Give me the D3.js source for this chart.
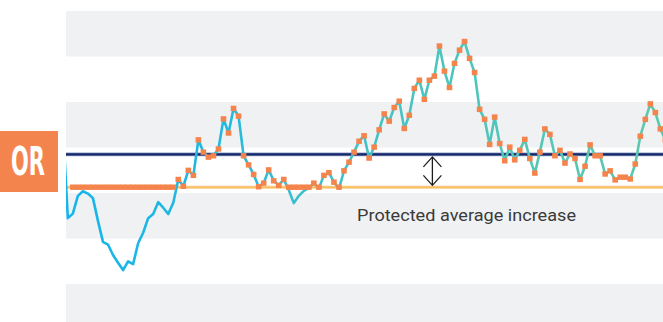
<!DOCTYPE html>
<html><head><meta charset="utf-8">
<script src="https://cdn.jsdelivr.net/npm/d3@7"></script>
<style>html,body{margin:0;padding:0;background:#fff;} svg{display:block}</style>
</head><body>
<svg id="c" width="663" height="322"></svg>
<script>
// ---- data ----
const values = [
  45.2, 24.5, 25.5, 29.4, 30.4, 29.9, 28.9, 23.9, 19.3, 18.7, 16.4, 14.7, 13.1, 15.0, 14.4, 19.0, 21.3, 24.5, 25.4, 28.0, 26.8, 25.4, 27.9,
  33.0, 31.5, 35.0, 33.9, 41.7, 39.0, 37.9, 38.2, 39.7, 46.3,
  43.2, 48.6, 46.9, 38.2, 36.2, 34.1, 31.4, 32.2, 35.1, 32.7,
  31.7, 33.0, 30.7, 27.8, 29.4, 30.5, 31.1, 32.2, 31.1, 33.9,
  34.5, 32.4, 31.0, 34.9, 36.8, 39.0, 41.4, 42.6, 37.7, 40.1,
  43.9, 47.4, 45.8, 48.8, 50.2, 44.2, 47.1, 53.0, 54.8, 50.6,
  54.8, 55.7, 62.3, 56.8, 53.2, 58.5, 61.4, 63.3, 59.6, 56.5,
  48.4, 46.2, 40.7, 46.7, 40.9, 37.1, 40.1, 37.3, 39.4, 41.8,
  37.6, 34.4, 39.0, 44.1, 42.9, 38.2, 39.4, 36.6, 38.6, 37.6,
  33.0, 35.9, 40.6, 38.2, 38.2, 34.2, 34.9, 32.9, 33.5, 33.5,
  33.1, 36.4, 42.5, 46.2, 49.6, 47.7, 44.1, 41.7
];
const floorLevel = 31.3;      // protected level (yellow line)
const averageLevel = 38.5;    // average level (navy line)
const bands = [[0, 10], [20, 30], [40, 50], [60, 70]];
const firstMarkerIndex = 2;
const arrowIndex = 73.6;
const badgeText = "OR";
const annotationText = "Protected average increase";

// ---- layout ----
const W = 663, H = 322;
const plotLeft = 66, plotRight = 663;
const svg = d3.select("#c");

const x = d3.scaleLinear().domain([0, values.length - 1]).range([62.8, 665.4]);
const y = d3.scaleLinear().domain([0, 70]).range([329.7, 11]);

const defs = svg.append("defs");
defs.append("clipPath").attr("id", "plotclip").append("rect")
  .attr("x", plotLeft).attr("y", 0).attr("width", plotRight - plotLeft).attr("height", H);
const grad = defs.append("linearGradient").attr("id", "lg")
  .attr("gradientUnits", "userSpaceOnUse")
  .attr("x1", plotLeft).attr("x2", plotRight).attr("y1", 0).attr("y2", 0);
[[0, "#15b5ea"], [0.25, "#22b8e0"], [0.4, "#3cbfcd"], [0.6, "#4cc4bf"], [1, "#5ec8ac"]]
  .forEach(([o, c]) => grad.append("stop").attr("offset", o).attr("stop-color", c));

// bands
svg.append("g").selectAll("rect").data(bands).join("rect")
  .attr("x", plotLeft).attr("width", plotRight - plotLeft)
  .attr("y", d => y(d[1])).attr("height", d => y(d[0]) - y(d[1]))
  .attr("fill", "#f0f1f3");

// reference lines
svg.append("line").attr("x1", plotLeft).attr("x2", plotRight)
  .attr("y1", y(floorLevel)).attr("y2", y(floorLevel))
  .attr("stroke", "#fde3b8").attr("stroke-width", 3.5);
svg.append("line").attr("x1", plotLeft).attr("x2", plotRight)
  .attr("y1", y(floorLevel)).attr("y2", y(floorLevel))
  .attr("stroke", "#f9bd62").attr("stroke-width", 2);
svg.append("line").attr("x1", plotLeft).attr("x2", plotRight)
  .attr("y1", y(averageLevel)).attr("y2", y(averageLevel))
  .attr("stroke", "#8a9cc4").attr("stroke-width", 3.6);
svg.append("line").attr("x1", plotLeft).attr("x2", plotRight)
  .attr("y1", y(averageLevel)).attr("y2", y(averageLevel))
  .attr("stroke", "#15296a").attr("stroke-width", 2.2);

// series line
const g = svg.append("g").attr("clip-path", "url(#plotclip)");
const line = d3.line().x((d, i) => x(i)).y(d => y(d));
g.append("path").datum(values).attr("d", line)
  .attr("fill", "none").attr("stroke", "url(#lg)")
  .attr("stroke-width", 2.6).attr("stroke-linejoin", "round").attr("stroke-linecap", "round");

// markers (clamped at the protected level)
const mw = 5.6, mh = 5.4;
g.selectAll("rect.m").data(values.map((v, i) => ({v, i})).filter(d => d.i >= firstMarkerIndex))
  .join("rect").attr("class", "m")
  .attr("x", d => x(d.i) - mw / 2).attr("y", d => y(Math.max(d.v, floorLevel)) - mh / 2)
  .attr("width", mw).attr("height", mh).attr("fill", "#f4834c");

// arrow
const ax = x(arrowIndex), aTop = y(averageLevel) + 2.5, aBot = y(floorLevel) - 1.8;
const ap = d3.path();
ap.moveTo(ax, aTop); ap.lineTo(ax, aBot);
ap.moveTo(ax - 9, aTop + 10); ap.lineTo(ax, aTop); ap.lineTo(ax + 9, aTop + 10);
ap.moveTo(ax - 9, aBot - 10); ap.lineTo(ax, aBot); ap.lineTo(ax + 9, aBot - 10);
svg.append("path").attr("d", ap.toString()).attr("fill", "none")
  .attr("stroke", "#1e1e1e").attr("stroke-width", 1.3);

// annotation text
const t = svg.append("text").attr("x", 357).attr("y", 221)
  .attr("font-family", "Roboto, 'Open Sans', sans-serif").attr("font-size", 16.5)
  .attr("fill", "#3a3a3a").text(annotationText);
t.attr("textLength", 219).attr("lengthAdjust", "spacingAndGlyphs");

// badge
svg.append("rect").attr("x", 0).attr("y", 131).attr("width", 58).attr("height", 61).attr("fill", "#f4844e");
svg.append("text").attr("x", 28).attr("y", 175).attr("text-anchor", "middle")
  .attr("font-family", "'Liberation Sans Narrow', 'DejaVu Sans Condensed', 'Liberation Sans', sans-serif")
  .attr("font-weight", "bold").attr("font-size", 38.5).attr("fill", "#fff")
  .attr("textLength", 34).attr("lengthAdjust", "spacingAndGlyphs")
  .text(badgeText);
</script>
</body></html>
